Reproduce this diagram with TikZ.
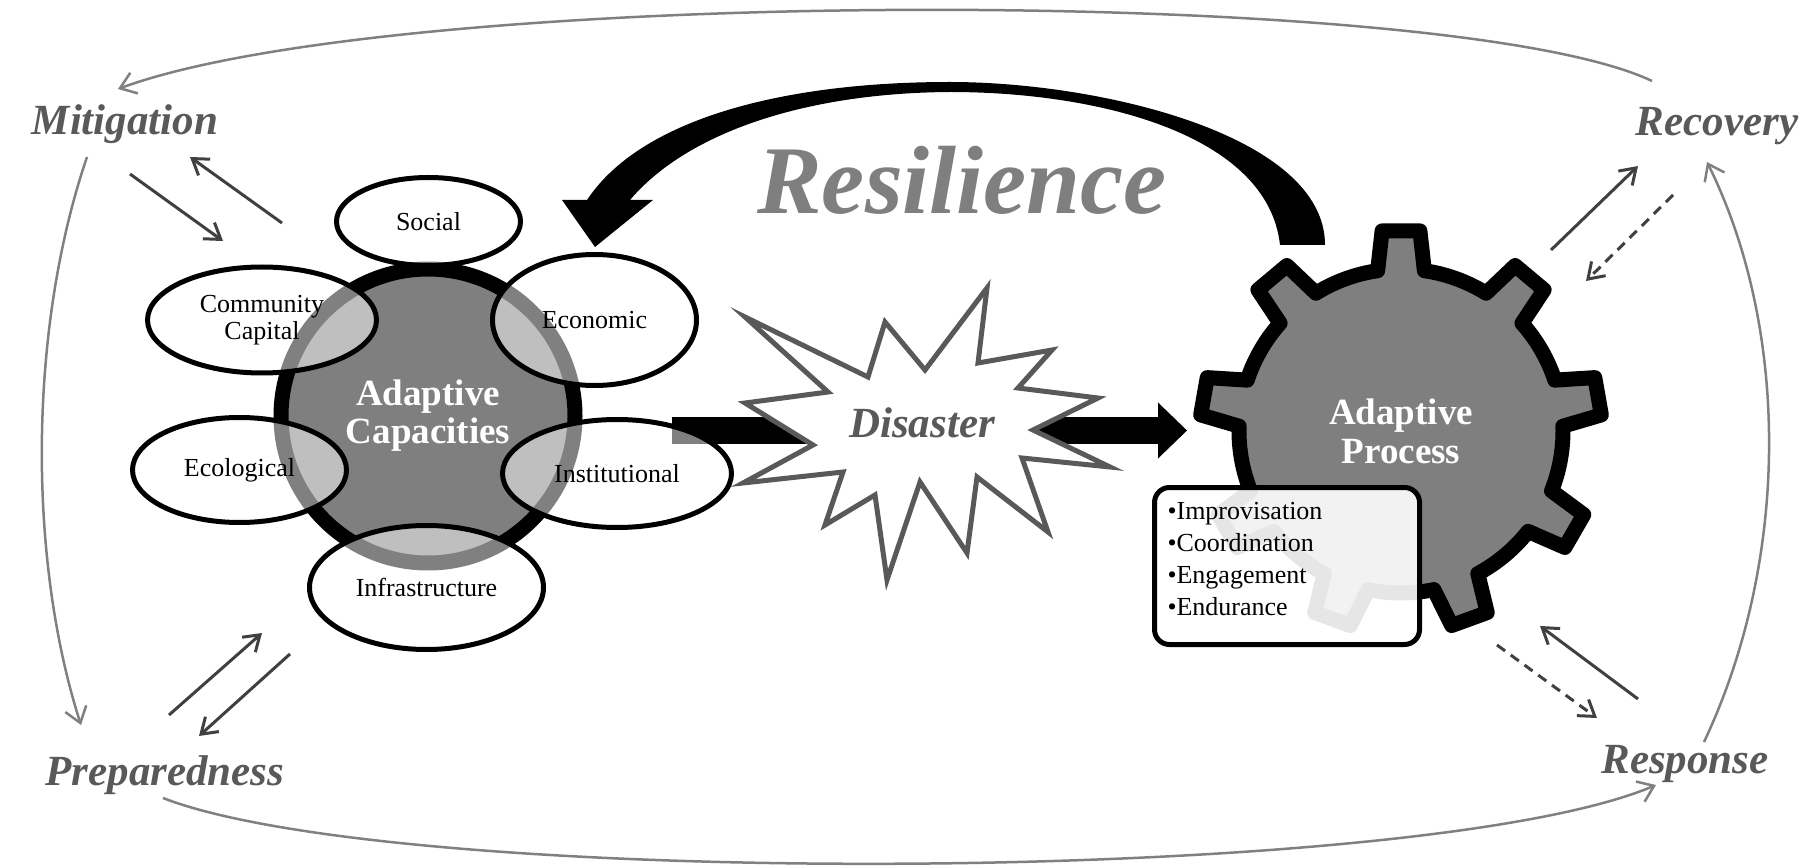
\documentclass[tikz,border=0pt]{standalone}
\usepackage{fontspec}
\setmainfont{Liberation Serif}
\usepackage{xcolor}
\usepackage{tikz}
\usetikzlibrary{shapes.geometric,arrows.meta}

\definecolor{labelgray}{HTML}{595959}
\definecolor{arcgray}{HTML}{808080}
\definecolor{pairgray}{HTML}{404040}
\definecolor{midgray}{HTML}{7F7F7F}

\begin{document}
\begin{tikzpicture}[x=1pt, y=-1pt,
  phase/.style={text=labelgray, font=\fontsize{43}{50}\selectfont\bfseries\itshape, anchor=base, inner sep=0pt},
  cyclearc/.style={draw=arcgray, line width=2.5pt, -{Straight Barb[length=15pt,width=22pt]}},
  pairline/.style={draw=pairgray, line width=3pt, -{Straight Barb[length=15pt,width=20pt]}},
  pairdash/.style={pairline, dash pattern=on 10pt off 7pt},
  fatbar/.style={line width=27pt},
  hub/.style={circle, draw, line width=15pt, fill=midgray, minimum size=294pt, inner sep=0pt, text=white, font=\fontsize{37}{38}\selectfont\bfseries, align=center},
  capsule/.style={ellipse, draw, line width=5pt, fill=white, fill opacity=0.5, text opacity=1, inner sep=0pt, align=center, font=\fontsize{26}{27}\selectfont},
  burst/.style={draw=labelgray, line width=5pt, fill=white},
  gearline/.style={draw, line width=15pt, line join=round, fill=midgray},
  listbox/.style={draw, line width=5pt, rounded corners=15pt, fill=white, fill opacity=0.9, text opacity=1, minimum width=265pt, minimum height=157pt, text width=239pt, inner xsep=13pt, align=left, font=\fontsize{26}{32}\selectfont}]
  \useasboundingbox (0,0) rectangle (1818,866);

  \node[phase] (mitigation) at (125,135) {Mitigation};
  \node[phase] (recovery) at (1717,136) {Recovery};
  \node[phase] (preparedness) at (165,785) {Preparedness};
  \node[phase] (response) at (1685,773) {Response};

  \draw[cyclearc] (1652,81) .. controls (1450,-15) and (400,-15) .. (118,89);
  \draw[cyclearc] (87,157) .. controls (28,330) and (28,560) .. (81,725);
  \draw[cyclearc] (163,798) .. controls (400,890) and (1420,885) .. (1656,785);
  \draw[cyclearc] (1704,742) .. controls (1790,560) and (1790,330) .. (1707,162);

  \draw[pairline] (130,174) -- (223,241);
  \draw[pairline] (282,223) -- (190,157);
  \draw[pairline] (169,715) -- (262,633);
  \draw[pairline] (290,654) -- (199,736);
  \draw[pairline] (1551,250) -- (1638,166);
  \draw[pairdash] (1673,195) -- (1586,281);
  \draw[pairline] (1638,699) -- (1540,626);
  \draw[pairdash] (1497,645) -- (1597,718);

  \coordinate (barin) at (672,430.5);
  \coordinate (burstmid) at (922,430.5);
  \coordinate (barout) at (1187,430.5);
  \draw[fatbar] (barin) -- (burstmid);
  \draw[fatbar, -{Triangle[length=29pt,width=56pt,line width=0pt]}] (burstmid) -- (barout);

  \node[hub] (capacity) at (428,416) {Adaptive\\Capacities};
  \node[capsule, minimum width=184pt, minimum height=88pt] (social) at (428.5,221.5) {Social};
  \node[capsule, minimum width=229pt, minimum height=106pt] (community) at (262,320) {Community\\Capital};
  \node[capsule, minimum width=204pt, minimum height=131pt] (economic) at (594.5,320) {Economic};
  \node[capsule, minimum width=214pt, minimum height=105pt] (ecological) at (239.5,470) {Ecological};
  \node[capsule, minimum width=229pt, minimum height=108pt] (institutional) at (617,473.5) {Institutional};
  \node[capsule, minimum width=234pt, minimum height=124pt] (infrastructure) at (426.5,587.5) {Infrastructure};

  \draw[burst] (745,317) -- (828,392) -- (745,403) -- (813,445) -- (743,483) -- (843,472)
    -- (825,525) -- (875,495) -- (887,580) -- (920,482) -- (967,553) -- (977,477)
    -- (1048,532) -- (1022,458) -- (1110,467) -- (1033,430) -- (1098,398) -- (1018,388)
    -- (1052,350) -- (978,363) -- (987,288) -- (925,370) -- (885,322) -- (868,377) -- cycle;
  \node[phase] (disaster) at (922,437) {Disaster};

  \coordinate (gear) at (1401,431);
  \draw[gearline, shift={(gear)}] (21.7:162)
    \foreach \a in {30,70,...,350} {-- (\a-8.3:162) -- (\a-5.4:201) -- (\a+5.4:201) -- (\a+8.3:162)
      arc[start angle=\a+8.3, end angle=\a+31.7, radius=162]} -- cycle;
  \node[text=white, font=\fontsize{37}{39}\selectfont\bfseries, align=center] (process) at (gear) {Adaptive\\Process};

  \fill (1325,245) .. controls (1325,135) and (1100,82) .. (950,82)
    .. controls (780,82) and (640,120) .. (587,200) -- (562,200) -- (595,247) -- (653,200) -- (630,200)
    .. controls (685,135) and (800,93) .. (950,92) .. controls (1100,92) and (1268,135) .. (1280,245) -- cycle;
  \node[text=midgray, font=\fontsize{97}{110}\selectfont\bfseries\itshape, anchor=base] (resilience) at (962,214) {Resilience};

  \node[listbox] (traits) at (1287,566) {\textbullet Improvisation\\ \textbullet Coordination\\ \textbullet Engagement\\ \textbullet Endurance\\[-18pt]\mbox{}};
\end{tikzpicture}
\end{document}
